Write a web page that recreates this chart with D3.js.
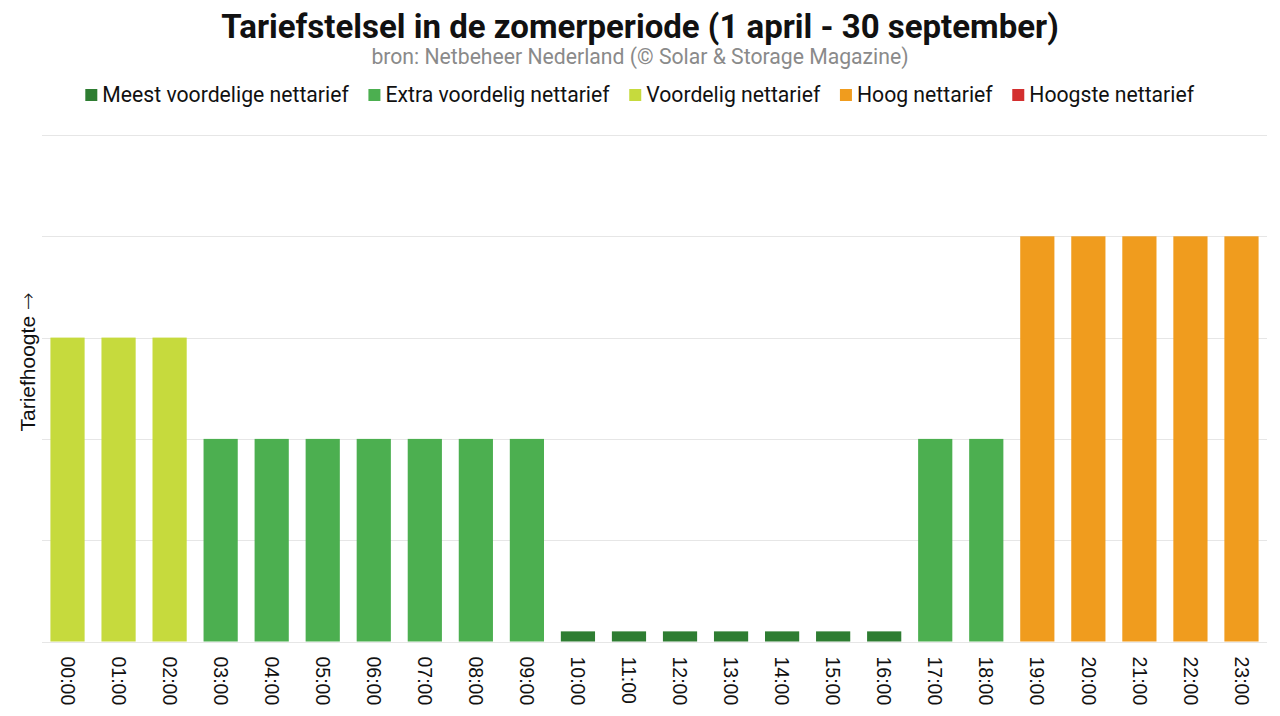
<!DOCTYPE html>
<html>
<head>
<meta charset="utf-8">
<script src="https://cdn.jsdelivr.net/npm/d3@7"></script>
<style>
  body { margin: 0; background: #fff; }
</style>
</head>
<body>
<script>

const hours = ["00:00", "01:00", "02:00", "03:00", "04:00", "05:00", "06:00", "07:00",
               "08:00", "09:00", "10:00", "11:00", "12:00", "13:00", "14:00", "15:00",
               "16:00", "17:00", "18:00", "19:00", "20:00", "21:00", "22:00", "23:00"]
const tariffLevels = [3, 3, 3, 2, 2, 2, 2, 2, 2, 2, 0.1, 0.1, 0.1, 0.1, 0.1, 0.1, 0.1,
                      2, 2, 4, 4, 4, 4, 4]
const tariffCategory = [2, 2, 2, 1, 1, 1, 1, 1, 1, 1, 0, 0, 0, 0, 0, 0, 0, 1, 1, 3, 3, 3, 3, 3]
const categoryNames = ["Meest voordelige nettarief", "Extra voordelig nettarief",
                       "Voordelig nettarief", "Hoog nettarief", "Hoogste nettarief"]
const categoryColors = ["#2e7d32", "#4caf50", "#c6da3d", "#f09c1e", "#d32f2f"]
const gridValues = [0, 1, 2, 3, 4, 5]

const width = 1280, height = 716
const margin = {top: 135, right: 13, bottom: 75, left: 42}

const svg = d3.select('body').append('svg')
    .attr('width', width)
    .attr('height', height)

const x = d3.scaleBand()
    .domain(hours)
    .range([margin.left, width - margin.right])
    .paddingInner(0.33)
    .paddingOuter(0.165)

const y = d3.scaleLinear()
    .domain([0, 5])
    .range([height - margin.bottom + 0.5, margin.top])

// gridlines
svg.append('g')
    .selectAll('line')
    .data(gridValues)
    .join('line')
    .attr('x1', margin.left)
    .attr('x2', width - margin.right)
    .attr('y1', d => Math.round(y(d)) + 0.5)
    .attr('y2', d => Math.round(y(d)) + 0.5)
    .attr('stroke', '#e6e6e6')
    .attr('stroke-width', 1)

// bars
svg.append('g')
    .selectAll('rect')
    .data(hours)
    .join('rect')
    .attr('x', d => x(d))
    .attr('width', x.bandwidth())
    .attr('y', (d, i) => y(tariffLevels[i]))
    .attr('height', (d, i) => y(0) - y(tariffLevels[i]))
    .attr('fill', (d, i) => categoryColors[tariffCategory[i]])

// x axis labels, rotated
const xAxis = svg.append('g')
    .attr('transform', 'translate(0,' + (y(0) + 15) + ')')
    .call(d3.axisBottom(x).tickSize(0).tickPadding(0))
xAxis.select('.domain').remove()
xAxis.selectAll('text')
    .attr('transform', 'rotate(90)')
    .attr('x', 0)
    .attr('y', 0)
    .attr('dy', '0.35em')
    .style('text-anchor', 'start')
    .style('font-family', 'Liberation Sans, Arial, sans-serif')
    .style('font-size', '19.5px')
    .style('fill', '#111')

// y axis title
const yTitle = svg.append('text')
    .attr('transform', 'translate(35,362) rotate(-90)')
    .attr('text-anchor', 'middle')
    .style('font-family', 'Liberation Sans, Arial, sans-serif')
    .style('font-size', '21px')
    .style('fill', '#111')
yTitle.append('tspan').text('Tariefhoogte ')
yTitle.append('tspan').style('font-family', 'DejaVu Sans').style('font-weight', '300').text('→')

// title + subtitle
svg.append('text')
    .attr('x', width / 2)
    .attr('y', 38)
    .attr('text-anchor', 'middle')
    .style('font-family', 'Roboto, sans-serif')
    .style('font-weight', 'bold')
    .style('font-size', '33px')
    .style('fill', '#111')
    .text('Tariefstelsel in de zomerperiode (1 april - 30 september)')

svg.append('text')
    .attr('x', width / 2)
    .attr('y', 64)
    .attr('text-anchor', 'middle')
    .style('font-family', 'Roboto, sans-serif')
    .style('font-size', '21.2px')
    .style('fill', '#8a8a8a')
    .text('bron: Netbeheer Nederland (© Solar & Storage Magazine)')

// legend
const legend = svg.append('g')
const items = legend.selectAll('g')
    .data(categoryNames)
    .join('g')
items.append('rect')
    .attr('width', 12)
    .attr('height', 12)
    .attr('y', -13)
    .attr('fill', (d, i) => categoryColors[i])
items.append('text')
    .attr('x', 17)
    .attr('y', 0)
    .style('font-family', 'Roboto, sans-serif')
    .style('font-size', '21.2px')
    .style('fill', '#111')
    .text(d => d)

const legendGap = 19
let offset = 0
items.each(function () {
    const w = this.getBBox().width
    d3.select(this).attr('transform', 'translate(' + offset + ',0)')
    offset += w + legendGap
})
const legendWidth = offset - legendGap
legend.attr('transform', 'translate(' + (width / 2 - legendWidth / 2) + ',102)')

</script>
</body>
</html>
